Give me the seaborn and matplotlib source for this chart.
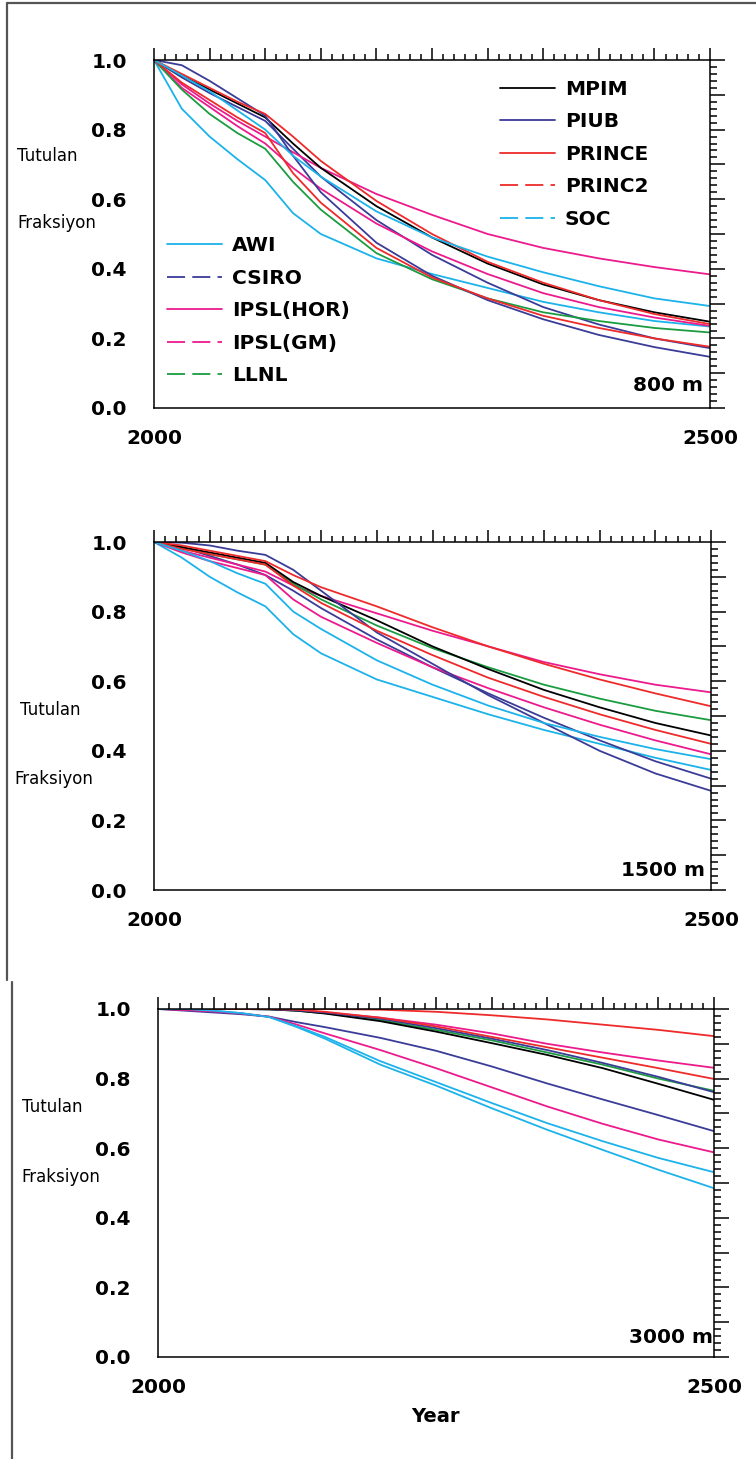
import numpy as np
import pandas as pd
import seaborn as sns
import matplotlib.pyplot as plt
from matplotlib.lines import Line2D
from matplotlib.ticker import MultipleLocator

years = [2000, 2025, 2050, 2075, 2100, 2125, 2150, 2200, 2250, 2300, 2350, 2400, 2450, 2500]
models = ['AWI', 'CSIRO', 'IPSL(HOR)', 'IPSL(GM)', 'LLNL',
          'MPIM', 'PIUB', 'PRINCE', 'PRINC2', 'SOC']

# 800 m
awi_800 = [1.0, 0.86, 0.78, 0.715, 0.655, 0.56, 0.50, 0.43, 0.385, 0.345, 0.305, 0.275, 0.25, 0.234]
csiro_800 = [1.0, 0.95, 0.905, 0.865, 0.825, 0.745, 0.665, 0.54, 0.44, 0.36, 0.29, 0.24, 0.20, 0.172]
ipslh_800 = [1.0, 0.93, 0.875, 0.825, 0.78, 0.735, 0.69, 0.615, 0.555, 0.50, 0.46, 0.43, 0.405, 0.384]
ipslg_800 = [1.0, 0.92, 0.865, 0.81, 0.76, 0.69, 0.63, 0.53, 0.45, 0.385, 0.33, 0.29, 0.26, 0.236]
llnl_800 = [1.0, 0.915, 0.845, 0.79, 0.745, 0.65, 0.57, 0.445, 0.37, 0.315, 0.275, 0.25, 0.23, 0.217]
mpim_800 = [1.0, 0.955, 0.915, 0.875, 0.835, 0.76, 0.69, 0.58, 0.49, 0.415, 0.355, 0.31, 0.275, 0.248]
piub_800 = [1.0, 0.985, 0.94, 0.89, 0.84, 0.725, 0.62, 0.475, 0.38, 0.31, 0.255, 0.21, 0.175, 0.147]
prince_800 = [1.0, 0.96, 0.92, 0.88, 0.845, 0.78, 0.71, 0.595, 0.50, 0.42, 0.36, 0.31, 0.27, 0.241]
princ2_800 = [1.0, 0.935, 0.885, 0.835, 0.79, 0.675, 0.59, 0.46, 0.375, 0.315, 0.265, 0.23, 0.20, 0.176]
soc_800 = [1.0, 0.955, 0.91, 0.855, 0.80, 0.725, 0.665, 0.565, 0.49, 0.435, 0.39, 0.35, 0.315, 0.293]

# 1500 m
awi_1500 = [1.0, 0.955, 0.90, 0.855, 0.815, 0.735, 0.68, 0.605, 0.555, 0.505, 0.46, 0.42, 0.38, 0.345]
csiro_1500 = [1.0, 0.985, 0.96, 0.935, 0.905, 0.86, 0.81, 0.72, 0.64, 0.565, 0.495, 0.43, 0.37, 0.32]
ipslh_1500 = [1.0, 0.975, 0.955, 0.935, 0.915, 0.875, 0.845, 0.795, 0.745, 0.70, 0.655, 0.62, 0.59, 0.568]
ipslg_1500 = [1.0, 0.97, 0.945, 0.925, 0.905, 0.835, 0.785, 0.71, 0.64, 0.58, 0.525, 0.475, 0.43, 0.39]
llnl_1500 = [1.0, 0.985, 0.965, 0.95, 0.935, 0.88, 0.835, 0.76, 0.695, 0.64, 0.59, 0.55, 0.515, 0.488]
mpim_1500 = [1.0, 0.985, 0.97, 0.955, 0.94, 0.885, 0.845, 0.775, 0.70, 0.635, 0.575, 0.525, 0.48, 0.444]
piub_1500 = [1.0, 0.998, 0.99, 0.975, 0.963, 0.92, 0.86, 0.74, 0.65, 0.56, 0.48, 0.40, 0.335, 0.285]
prince_1500 = [1.0, 0.99, 0.975, 0.96, 0.945, 0.905, 0.87, 0.815, 0.755, 0.70, 0.65, 0.605, 0.565, 0.528]
princ2_1500 = [1.0, 0.98, 0.965, 0.95, 0.935, 0.875, 0.825, 0.745, 0.675, 0.61, 0.555, 0.505, 0.46, 0.42]
soc_1500 = [1.0, 0.975, 0.945, 0.91, 0.88, 0.80, 0.75, 0.66, 0.59, 0.53, 0.48, 0.44, 0.405, 0.376]

# 3000 m
awi_3000 = [1.0, 1.0, 0.995, 0.988, 0.977, 0.948, 0.915, 0.84, 0.78, 0.715, 0.653, 0.595, 0.538, 0.485]
csiro_3000 = [1.0, 0.995, 0.99, 0.985, 0.978, 0.962, 0.948, 0.917, 0.88, 0.835, 0.786, 0.74, 0.695, 0.649]
ipslh_3000 = [1.0, 1.0, 1.0, 1.0, 1.0, 0.997, 0.99, 0.975, 0.955, 0.93, 0.90, 0.875, 0.852, 0.831]
ipslg_3000 = [1.0, 0.997, 0.993, 0.987, 0.978, 0.955, 0.93, 0.882, 0.83, 0.775, 0.72, 0.67, 0.625, 0.588]
llnl_3000 = [1.0, 1.0, 1.0, 1.0, 0.999, 0.995, 0.988, 0.968, 0.94, 0.91, 0.875, 0.84, 0.80, 0.765]
mpim_3000 = [1.0, 1.0, 1.0, 1.0, 0.999, 0.995, 0.987, 0.965, 0.935, 0.902, 0.868, 0.83, 0.785, 0.739]
piub_3000 = [1.0, 1.0, 1.0, 1.0, 0.999, 0.996, 0.99, 0.972, 0.945, 0.915, 0.882, 0.845, 0.805, 0.761]
prince_3000 = [1.0, 1.0, 1.0, 1.0, 1.0, 1.0, 1.0, 0.998, 0.992, 0.982, 0.97, 0.955, 0.94, 0.922]
princ2_3000 = [1.0, 1.0, 1.0, 1.0, 1.0, 0.998, 0.992, 0.975, 0.95, 0.92, 0.89, 0.86, 0.83, 0.799]
soc_3000 = [1.0, 1.0, 0.995, 0.988, 0.977, 0.95, 0.92, 0.85, 0.79, 0.73, 0.672, 0.62, 0.572, 0.531]

depth_labels = ['800 m', '1500 m', '3000 m']
x_ticklabels = ['2000', '2500']

colors = {'AWI': '#1cb2ea', 'CSIRO': '#3a3c98', 'IPSL(HOR)': '#ec1a8c',
          'IPSL(GM)': '#ec1a8c', 'LLNL': '#1c9c40', 'MPIM': '#000000',
          'PIUB': '#3a3c98', 'PRINCE': '#ee2a2a', 'PRINC2': '#ee2a2a',
          'SOC': '#1cb2ea'}
dashed = ['CSIRO', 'IPSL(GM)', 'LLNL', 'PRINC2', 'SOC']

panels = [
    [awi_800, csiro_800, ipslh_800, ipslg_800, llnl_800, mpim_800, piub_800, prince_800, princ2_800, soc_800],
    [awi_1500, csiro_1500, ipslh_1500, ipslg_1500, llnl_1500, mpim_1500, piub_1500, prince_1500, princ2_1500, soc_1500],
    [awi_3000, csiro_3000, ipslh_3000, ipslg_3000, llnl_3000, mpim_3000, piub_3000, prince_3000, princ2_3000, soc_3000],
]

sns.set_theme(style='white')
plt.rcParams['font.family'] = ['DejaVu Sans']
plt.rcParams['text.color'] = 'black'
plt.rcParams['xtick.color'] = 'black'
plt.rcParams['ytick.color'] = 'black'
plt.rcParams['xtick.labelcolor'] = 'black'
plt.rcParams['ytick.labelcolor'] = 'black'

W, H = 756, 1459
fig = plt.figure(figsize=(W / 100, H / 100), dpi=100)

# axes boxes in pixels: left, top, right, bottom
boxes = [(154, 60, 710, 408), (154, 542, 711, 890), (158, 1009, 714, 1357)]
label_pos = [((17, 156), (17, 223)), ((20, 710), (14, 779)), ((22, 1107), (21, 1177))]
depth_pos = [(0.987, 0.066), (0.989, 0.057), (0.998, 0.055)]

FS = 14.5
for i, (l, t, r, b) in enumerate(boxes):
    ax = fig.add_axes([l / W, 1 - b / H, (r - l) / W, (b - t) / H])
    rows = []
    for m, vals in zip(models, panels[i]):
        for yr, v in zip(years, vals):
            rows.append({'year': yr, 'value': v, 'model': m})
    df = pd.DataFrame(rows)
    sns.lineplot(data=df, x='year', y='value', hue='model', palette=colors,
                 hue_order=models, linewidth=1.3, legend=False, ax=ax)
    ax.set_xlim(2000, 2500)
    ax.set_ylim(0, 1)
    ax.set_xlabel('')
    ax.set_ylabel('')

    xt = list(range(2000, 2501, 50))
    ax.set_xticks(xt)
    ax.set_xticklabels([x_ticklabels[0]] + [''] * (len(xt) - 2) + [x_ticklabels[1]])
    ax.xaxis.set_minor_locator(MultipleLocator(10))
    yt = np.round(np.arange(0, 1.01, 0.1), 1)
    ax.set_yticks(yt)
    ax.set_yticklabels([f'{v:.1f}' if k % 2 == 0 else '' for k, v in enumerate(yt)])
    ax.yaxis.set_minor_locator(MultipleLocator(0.02))

    ax.tick_params(which='both', direction='out', top=True, right=True,
                   color='black', labelcolor='black', width=1.1)
    ax.tick_params(axis='x', which='major', length=9, pad=6, labelsize=FS)
    ax.tick_params(axis='x', which='minor', length=4)
    ax.tick_params(axis='y', which='major', length=10.5, pad=9, labelsize=FS)
    ax.tick_params(axis='y', which='minor', length=5)
    for lbl in ax.get_xticklabels() + ax.get_yticklabels():
        lbl.set_fontweight('bold')
    for sp in ax.spines.values():
        sp.set_color('black')
        sp.set_linewidth(1.1)

    ax.text(depth_pos[i][0], depth_pos[i][1], depth_labels[i], transform=ax.transAxes,
            ha='right', va='center', fontsize=FS, fontweight='bold', color='black')

    (tx, ty), (fx, fy) = label_pos[i]
    fig.text(tx / W, 1 - ty / H, 'Tutulan', ha='left', va='center', fontsize=12, color='black')
    fig.text(fx / W, 1 - fy / H, 'Fraksiyon', ha='left', va='center', fontsize=12, color='black')

    if i == 0:
        def handle(m):
            ls = (0, (10, 4)) if m in dashed else '-'
            return Line2D([], [], color=colors[m], lw=1.3, linestyle=ls)
        kw = dict(loc='upper left', frameon=False, handlelength=2.73,
                  handletextpad=0.5, labelspacing=0.67, borderpad=0,
                  borderaxespad=0, labelcolor='black',
                  prop={'weight': 'bold', 'size': FS})
        leg1 = ax.legend([handle(m) for m in models[:5]], models[:5],
                         bbox_to_anchor=(0.023, 0.494), **kw)
        ax.add_artist(leg1)
        ax.legend([handle(m) for m in models[5:]], models[5:],
                  bbox_to_anchor=(0.622, 0.943), **kw)

fig.text(435 / W, 1 - 1416 / H, 'Year', ha='center', va='center',
         fontsize=14, fontweight='bold', color='black')

# outer frame lines of the original page
frame = dict(color='#555555', lw=1.6)
fig.add_artist(Line2D([7 / W, 7 / W], [1 - 3 / H, 1 - 980 / H], **frame))
fig.add_artist(Line2D([7 / W, 1.0], [1 - 3 / H, 1 - 3 / H], **frame))
fig.add_artist(Line2D([12 / W, 12 / W], [1 - 982 / H, 0.0], **frame))

fig.savefig('out.png', dpi=100)
